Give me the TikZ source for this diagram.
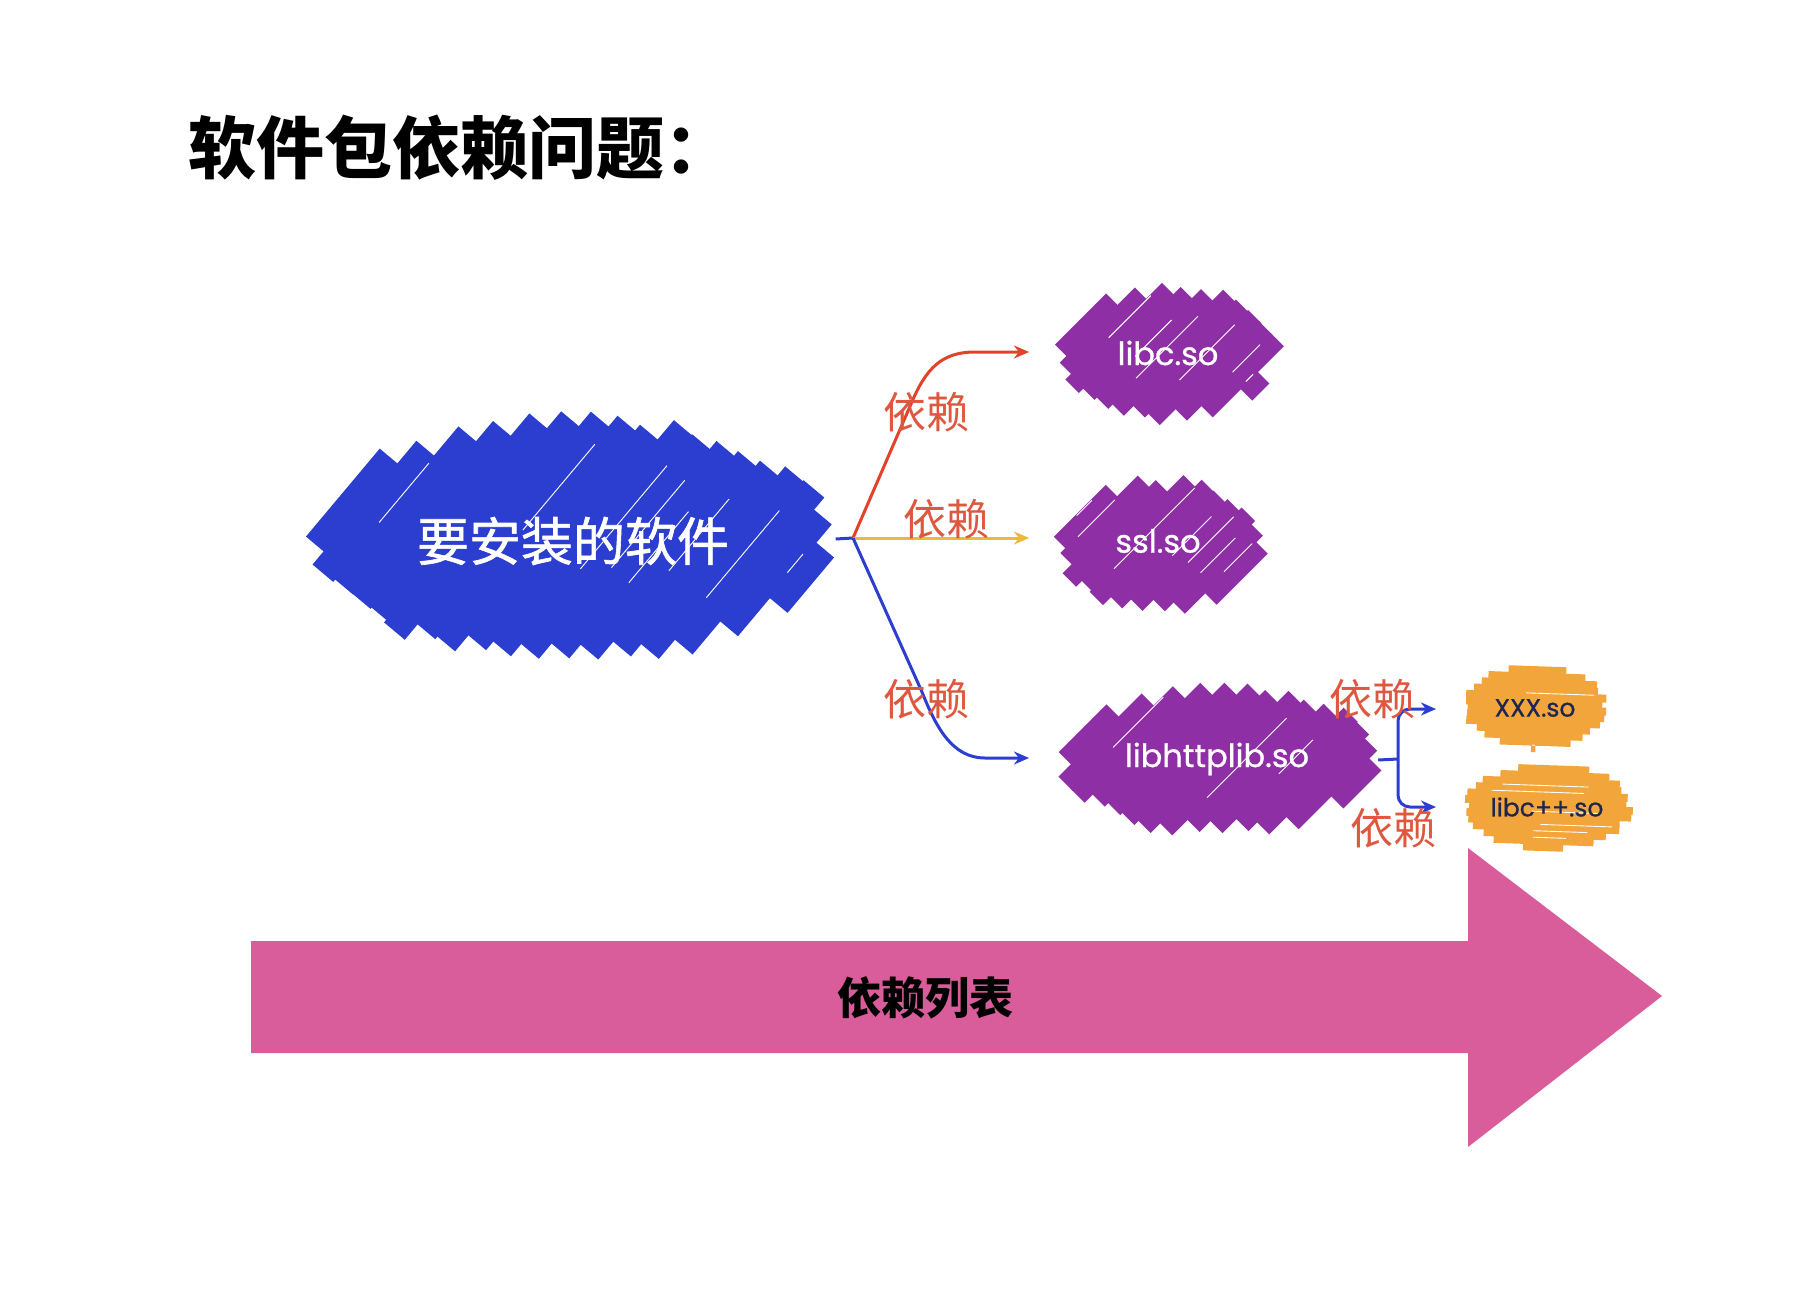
\documentclass[tikz,border=0pt]{standalone}
\usepackage{fontspec}
\usetikzlibrary{arrows.meta,shapes.geometric}
\newfontfamily\cjk{Noto Sans CJK SC}
\newfontfamily\cjkm{Noto Sans CJK SC}[FakeBold=1.2]
\newfontfamily\pop{Poppins}[FakeBold=0.8]
\definecolor{blobblue}{RGB}{43,62,208}
\definecolor{blobpurple}{RGB}{142,47,165}
\definecolor{bloborange}{RGB}{242,165,58}
\definecolor{pinkarrow}{RGB}{217,93,155}
\definecolor{lblred}{RGB}{222,88,64}
\definecolor{arrred}{RGB}{226,66,42}
\definecolor{arryellow}{RGB}{236,185,60}
\definecolor{navy}{RGB}{30,38,80}
% scribble fill: cx cy a b angle width spacing color ext
\newcommand{\scribble}[9]{%
\begingroup
\pgfmathsetmacro\scA{#3/100}%
\pgfmathsetmacro\scB{#4/100}%
\pgfmathsetmacro\scDX{cos(#5)}%
\pgfmathsetmacro\scDY{0-sin(#5)}%
\pgfmathsetmacro\scNX{sin(#5)}%
\pgfmathsetmacro\scNY{cos(#5)}%
\pgfmathsetmacro\scMax{sqrt((\scA*\scNX)^2+(\scB*\scNY)^2)}%
\pgfmathsetmacro\scN{int(2*\scMax*100/#7)}%
\pgfmathsetmacro\scQA{(\scDX/\scA)^2+(\scDY/\scB)^2}%
\foreach \k in {0,...,\scN}{%
 \pgfmathsetmacro\scS{0-\scMax+(\k+0.5)*#7/100}%
 \pgfmathsetmacro\scQB{2*\scS*(\scNX*\scDX/(\scA*\scA)+\scNY*\scDY/(\scB*\scB))}%
 \pgfmathsetmacro\scQC{(\scS*\scNX/\scA)^2+(\scS*\scNY/\scB)^2-1}%
 \pgfmathsetmacro\scD{sqrt(max(\scQB*\scQB-4*\scQA*\scQC,0))}%
 \pgfmathsetmacro\scTa{(0-\scQB-\scD)/(2*\scQA)-rnd*#9/100}%
 \pgfmathsetmacro\scTb{(0-\scQB+\scD)/(2*\scQA)+rnd*#9/100}%
 \draw[line width=#6pt,draw=#8] ({#1+100*(\scS*\scNX+\scTa*\scDX)},{#2+100*(\scS*\scNY+\scTa*\scDY)}) -- ({#1+100*(\scS*\scNX+\scTb*\scDX)},{#2+100*(\scS*\scNY+\scTb*\scDY)});
 \pgfmathsetmacro\scG{rnd}%
 \ifdim\scG pt<0.35pt
  \pgfmathsetmacro\scW{\scS-(#6/2-1)/100}%
  \pgfmathsetmacro\scFa{\scTa+(0.15+0.35*rnd)*(\scTb-\scTa)}%
  \pgfmathsetmacro\scFb{\scTb-(0.05+0.3*rnd)*(\scTb-\scTa)}%
  \draw[line width=0.9pt,draw=white] ({#1+100*(\scW*\scNX+\scFa*\scDX)},{#2+100*(\scW*\scNY+\scFa*\scDY)}) -- ({#1+100*(\scW*\scNX+\scFb*\scDX)},{#2+100*(\scW*\scNY+\scFb*\scDY)});
 \fi
}%
\endgroup}
\begin{document}
\begin{tikzpicture}[x=1pt,y=-1pt,
  blob/.style={ellipse,inner sep=0pt},
  lbl/.style={text=lblred,font=\cjk\fontsize{43}{48}\selectfont,inner sep=0pt},
  conn/.style={line width=3pt},
  tip/.style={-{Stealth[length=15pt,width=13pt]}},
  lbtext/.style={text=white,font=\pop\fontsize{32}{36}\selectfont,inner sep=0pt},
  ortext/.style={text=navy,font=\pop\fontsize{25}{30}\selectfont,inner sep=0pt}]
\useasboundingbox (0,0) rectangle (1808,1296);
\fill[white] (0,0) rectangle (1808,1296);
\pgfmathsetseed{11}
% blobs
\scribble{573}{539}{250}{110}{50}{27}{23}{blobblue}{16}
\scribble{1168}{353}{103}{60}{45}{19}{16}{blobpurple}{10}
\scribble{1160}{545}{96}{58}{45}{19}{16}{blobpurple}{10}
\scribble{1218}{760}{152}{64}{45}{20}{17}{blobpurple}{12}
\scribble{1536}{707}{66}{40}{-2}{8}{6.5}{bloborange}{8}
\scribble{1548}{807}{78}{41}{-2}{8}{6.5}{bloborange}{8}
% title
\node[anchor=west,inner sep=0pt] (title) at (188,148) {\cjk\bfseries\fontsize{68}{74}\selectfont 软件包依赖问题：};
% nodes
\node[blob,minimum width=525pt,minimum height=236pt] (main) at (573,539) {};
\node[text=white,inner sep=0pt,font=\cjkm\fontsize{52}{58}\selectfont] (maintxt) at (573,541) {要安装的软件};
\node[blob,minimum width=225pt,minimum height=135pt] (libc) at (1169,353) {};
\node[lbtext] (libctxt) at (1168,353) {libc.so};
\node[blob,minimum width=209pt,minimum height=133pt] (ssl) at (1161,545) {};
\node[lbtext] (ssltxt) at (1158,541) {ssl.so};
\node[blob,minimum width=320pt,minimum height=146pt] (http) at (1218,760) {};
\node[lbtext] (httptxt) at (1217,759) {libhttplib.so};
\node[blob,minimum width=145pt,minimum height=89pt] (xxx) at (1536,707) {};
\node[ortext] (xxxtxt) at (1535,708) {XXX.so};
\node[blob,minimum width=169pt,minimum height=92pt] (cpp) at (1548,807) {};
\node[ortext] (cpptxt) at (1547,807) {libc++.so};
% connectors
\coordinate (br) at (853,538);
\coordinate (libcin) at (1029,352);
\coordinate (sslin) at (1029,538);
\coordinate (httpin) at (1029,758);
\coordinate (hs) at (1398,759);
\coordinate (xxxin) at (1436,709);
\coordinate (cppin) at (1436,807);
\draw[conn,blobblue] (main.east) -- (br);
\draw[conn,arrred,tip] (br) -- (911,404) .. controls (926,368) and (942,352) .. (975,352) -- (libcin);
\draw[conn,arryellow,tip] (br) -- (sslin);
\draw[conn,blobblue,tip] (br) -- (922,692) .. controls (936,727) and (952,758) .. (985,758) -- (httpin);
\draw[conn,blobblue] (http.east) -- (hs);
\draw[conn,blobblue,tip,rounded corners=12pt] (hs) |- (xxxin);
\draw[conn,blobblue,tip,rounded corners=12pt] (hs) |- (cppin);
% labels
\node[lbl] (d1) at (926,412) {依赖};
\node[lbl] (d2) at (946,519) {依赖};
\node[lbl] (d3) at (926,699) {依赖};
\node[lbl] (d4) at (1372,699) {依赖};
\node[lbl] (d5) at (1393,828) {依赖};
% big arrow
\fill[pinkarrow] (251,941) -- (1468,941) -- (1468,848) -- (1662,996) -- (1468,1147) -- (1468,1053) -- (251,1053) -- cycle;
\node[inner sep=0pt,font=\cjk\bfseries\fontsize{44}{50}\selectfont] (list) at (925,998) {依赖列表};
\end{tikzpicture}
\end{document}
